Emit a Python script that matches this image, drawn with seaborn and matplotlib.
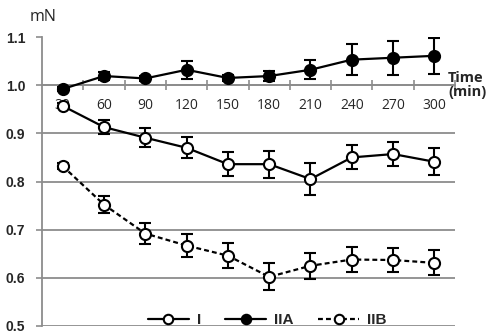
import pandas as pd
import seaborn as sns
import matplotlib.pyplot as plt

# time points (min)
time = [30, 60, 90, 120, 150, 180, 210, 240, 270, 300]

# mean force (mN) and error bars
i_mean = [0.957, 0.913, 0.891, 0.870, 0.836, 0.836, 0.805, 0.850, 0.857, 0.841]
i_err = [0.005, 0.014, 0.020, 0.022, 0.025, 0.028, 0.033, 0.025, 0.024, 0.028]

iia_mean = [0.992, 1.019, 1.014, 1.032, 1.015, 1.019, 1.032, 1.053, 1.057, 1.061]
iia_err = [0.005, 0.008, 0.006, 0.019, 0.006, 0.010, 0.020, 0.032, 0.035, 0.037]

iib_mean = [0.832, 0.752, 0.692, 0.667, 0.646, 0.602, 0.625, 0.638, 0.637, 0.631]
iib_err = [0.006, 0.018, 0.022, 0.024, 0.026, 0.028, 0.027, 0.025, 0.025, 0.026]

series = ['I', 'IIA', 'IIB']
means = [i_mean, iia_mean, iib_mean]
errs = [i_err, iia_err, iib_err]
face = ['white', 'black', 'white']
dash = ['-', '-', (0, (2.2, 1.4))]

df = pd.concat([pd.DataFrame({'time': time, 'force': m, 'err': e, 'series': s})
                for s, m, e in zip(series, means, errs)])

sns.set_style('white')
plt.rcParams['font.family'] = ['Open Sans', 'DejaVu Sans']

fig = plt.figure(figsize=(4.9, 3.36), dpi=100)
ax = fig.add_axes([0.0857, 0.0298, 0.843, 0.860])

grey = '#8c8c8c'
for s, fc, ls in zip(series, face, dash):
    d = df[df.series == s]
    ax.errorbar(d.time, d.force, yerr=d.err, fmt='none', ecolor='black',
                elinewidth=1.5, capsize=4, capthick=1.5, zorder=3)
    sns.lineplot(x='time', y='force', data=d, ax=ax, color='black', lw=1.6,
                 linestyle=ls, marker='o', markersize=8, markerfacecolor=fc,
                 markeredgecolor='black', markeredgewidth=1.5, label=s, zorder=4)

ax.set_xlim(15, 315)
ax.set_ylim(0.5, 1.1)
ax.set_yticks([0.5, 0.6, 0.7, 0.8, 0.9, 1.0, 1.1])
ax.set_yticklabels(['%.1f' % v for v in ax.get_yticks()], fontweight='bold',
                   fontsize=10, family=['Liberation Sans'])
ax.tick_params(axis='y', direction='out', length=4, color=grey, width=1.2,
               left=True, pad=8)

ax.set_xticks(list(range(45, 316, 30)))
ax.set_xticklabels([])
ax.set_xticks(time, minor=True)
ax.set_xticklabels([str(t) for t in time], minor=True, fontsize=10)
ax.tick_params(axis='x', which='major', direction='inout', length=7,
               color=grey, width=1.2, bottom=True)
ax.tick_params(axis='x', which='minor', length=0, pad=9)

ax.yaxis.grid(True, color=grey, lw=1.3)
ax.get_ygridlines()[-1].set_visible(False)
ax.set_axisbelow(True)

for sp in ['top', 'right']:
    ax.spines[sp].set_visible(False)
ax.spines['bottom'].set_position(('data', 1.0))
ax.spines['bottom'].set_color(grey)
ax.spines['bottom'].set_linewidth(1.3)
ax.spines['left'].set_color(grey)
ax.spines['left'].set_linewidth(1.3)

ax.set_xlabel('')
ax.set_ylabel('')
fig.text(0.088, 0.95, 'mN', ha='center', va='center', fontsize=11.5)
ax.text(0.983, 0.835, 'Time\n(min)', transform=ax.transAxes, ha='left',
        va='center', fontsize=10.5, fontweight='bold', linespacing=1.0)

leg = ax.legend(loc='center', bbox_to_anchor=(0.545, 0.048),
                bbox_transform=fig.transFigure, ncol=3, frameon=False,
                handlelength=2.7, columnspacing=1.6, handletextpad=0.5,
                markerscale=0.85,
                prop={'weight': 'bold', 'size': 11, 'family': 'Liberation Sans'})

fig.savefig('out.png', dpi=100)
